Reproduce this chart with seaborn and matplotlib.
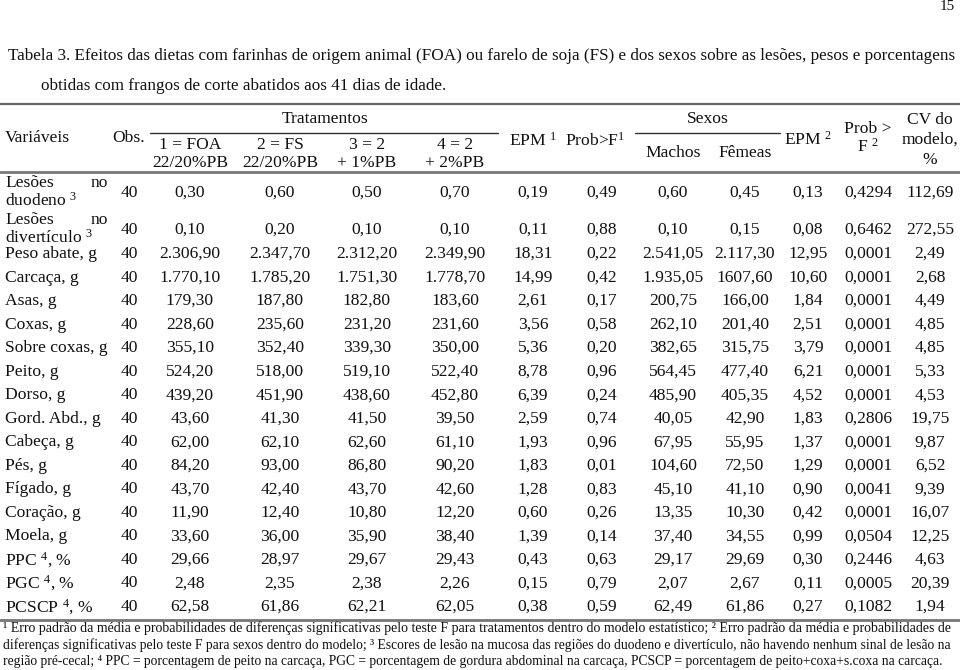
import numpy as np
import pandas as pd
import seaborn as sns
import matplotlib
matplotlib.use("Agg")
import matplotlib.pyplot as plt

# ---- table contents ----
variaveis = ["Lesões no duodeno$^{3}$", "Lesões no divertículo$^{3}$", "Peso abate, g", "Carcaça, g",
             "Asas, g", "Coxas, g", "Sobre coxas, g", "Peito, g", "Dorso, g", "Gord. Abd., g",
             "Cabeça, g", "Pés, g", "Fígado, g", "Coração, g", "Moela, g",
             "PPC $^{4}$, %", "PGC $^{4}$, %", "PCSCP $^{4}$, %"]
obs = ["40", "40", "40", "40", "40", "40", "40", "40", "40", "40", "40", "40", "40", "40", "40", "40", "40", "40"]
foa = ["0,30", "0,10", "2.306,90", "1.770,10", "179,30", "228,60", "355,10", "524,20", "439,20", "43,60",
       "62,00", "84,20", "43,70", "11,90", "33,60", "29,66", "2,48", "62,58"]
fs = ["0,60", "0,20", "2.347,70", "1.785,20", "187,80", "235,60", "352,40", "518,00", "451,90", "41,30",
      "62,10", "93,00", "42,40", "12,40", "36,00", "28,97", "2,35", "61,86"]
fs_1pb = ["0,50", "0,10", "2.312,20", "1.751,30", "182,80", "231,20", "339,30", "519,10", "438,60", "41,50",
          "62,60", "86,80", "43,70", "10,80", "35,90", "29,67", "2,38", "62,21"]
fs_2pb = ["0,70", "0,10", "2.349,90", "1.778,70", "183,60", "231,60", "350,00", "522,40", "452,80", "39,50",
          "61,10", "90,20", "42,60", "12,20", "38,40", "29,43", "2,26", "62,05"]
epm_trat = ["0,19", "0,11", "18,31", "14,99", "2,61", "3,56", "5,36", "8,78", "6,39", "2,59",
            "1,93", "1,83", "1,28", "0,60", "1,39", "0,43", "0,15", "0,38"]
prob_trat = ["0,49", "0,88", "0,22", "0,42", "0,17", "0,58", "0,20", "0,96", "0,24", "0,74",
             "0,96", "0,01", "0,83", "0,26", "0,14", "0,63", "0,79", "0,59"]
machos = ["0,60", "0,10", "2.541,05", "1.935,05", "200,75", "262,10", "382,65", "564,45", "485,90", "40,05",
          "67,95", "104,60", "45,10", "13,35", "37,40", "29,17", "2,07", "62,49"]
femeas = ["0,45", "0,15", "2.117,30", "1607,60", "166,00", "201,40", "315,75", "477,40", "405,35", "42,90",
          "55,95", "72,50", "41,10", "10,30", "34,55", "29,69", "2,67", "61,86"]
epm_sexo = ["0,13", "0,08", "12,95", "10,60", "1,84", "2,51", "3,79", "6,21", "4,52", "1,83",
            "1,37", "1,29", "0,90", "0,42", "0,99", "0,30", "0,11", "0,27"]
prob_sexo = ["0,4294", "0,6462", "0,0001", "0,0001", "0,0001", "0,0001", "0,0001", "0,0001", "0,0001", "0,2806",
             "0,0001", "0,0001", "0,0041", "0,0001", "0,0504", "0,2446", "0,0005", "0,1082"]
cv_modelo = ["112,69", "272,55", "2,49", "2,68", "4,49", "4,85", "4,85", "5,33", "4,53", "19,75",
             "9,87", "6,52", "9,39", "16,07", "12,25", "4,63", "20,39", "1,94"]

tratamentos = ["1 = FOA\n22/20%PB", "2 = FS\n22/20%PB", "3 = 2\n+ 1%PB", "4 = 2\n+ 2%PB"]

caption = ["Tabela 3. Efeitos das dietas com farinhas de origem animal (FOA) ou farelo de soja (FS) e dos sexos sobre as lesões, pesos e porcentagens",
           "obtidas com frangos de corte abatidos aos 41 dias de idade."]
footnotes = ["¹ Erro padrão da média e probabilidades de diferenças significativas pelo teste F para tratamentos dentro do modelo estatístico; ² Erro padrão da média e probabilidades de",
             "diferenças significativas pelo teste F para sexos dentro do modelo; ³ Escores de lesão na mucosa das regiões do duodeno e divertículo, não havendo nenhum sinal de lesão na",
             "região pré-cecal; ⁴ PPC = porcentagem de peito na carcaça, PGC = porcentagem de gordura abdominal na carcaça, PCSCP = porcentagem de peito+coxa+s.coxa na carcaça."]

df = pd.DataFrame({"obs": obs, "foa": foa, "fs": fs, "fs_1pb": fs_1pb, "fs_2pb": fs_2pb,
                   "epm_trat": epm_trat, "prob_trat": prob_trat, "machos": machos, "femeas": femeas,
                   "epm_sexo": epm_sexo, "prob_sexo": prob_sexo, "cv": cv_modelo}, index=variaveis)

sns.set_theme(style="white")
plt.rcParams['font.family'] = ['Liberation Serif', 'DejaVu Serif']
plt.rcParams['mathtext.fontset'] = 'custom'
plt.rcParams['mathtext.rm'] = 'Liberation Serif'
plt.rcParams['mathtext.default'] = 'regular'

fig = plt.figure(figsize=(9.6, 6.7), dpi=100)
ax = fig.add_axes([0, 0, 1, 1])
ax.set_xlim(0, 960)
ax.set_ylim(670, 0)
ax.axis('off')

ink = '#111111'
fs_body = 12.6
r = fig.canvas.get_renderer()


def fit_width(t, target):
    # shrink/grow the font until the text spans the target width
    for _ in range(4):
        w = t.get_window_extent(r).width
        t.set_fontsize(t.get_fontsize() * target / w)


# layout
col_x = [129, 190, 280, 367, 455, 533, 602, 673, 745, 808, 868, 930]
row_y = [193, 230] + list(np.linspace(254, 607, len(variaveis) - 2))

# page number + caption
ax.text(955, 7, "15", ha='right', va='center', fontsize=11, color=ink)
cap1 = ax.text(8, 56, caption[0], ha='left', va='center', fontsize=12, color=ink)
fit_width(cap1, 945)
ax.text(41, 86, caption[1], ha='left', va='center', fontsize=cap1.get_fontsize(), color=ink)

# rules
ax.plot([0, 960], [104, 104], color='#666666', lw=1.6)
ax.plot([150, 498], [133, 133], color='#333333', lw=1.0)
ax.plot([635, 780], [133, 133], color='#333333', lw=1.0)
ax.plot([0, 960], [172, 172], color='#777777', lw=2.0)
ax.plot([0, 960], [620, 620], color='#777777', lw=2.0)

# header
ax.text(5, 138, "Variáveis", ha='left', va='center', fontsize=fs_body, color=ink)
ax.text(col_x[0], 138, "Obs.", ha='center', va='center', fontsize=fs_body, color=ink)
ax.text(325, 119, "Tratamentos", ha='center', va='center', fontsize=fs_body, color=ink)
for x, lab in zip(col_x[1:5], tratamentos):
    top, bot = lab.split("\n")
    ax.text(x, 145, top, ha='center', va='center', fontsize=fs_body, color=ink)
    ax.text(x, 163, bot, ha='center', va='center', fontsize=fs_body, color=ink)
ax.text(col_x[5], 141, "EPM $^{1}$", ha='center', va='center', fontsize=fs_body, color=ink)
ax.text(595, 141, "Prob>F$^{1}$", ha='center', va='center', fontsize=fs_body, color=ink)
ax.text(708, 119, "Sexos", ha='center', va='center', fontsize=fs_body, color=ink)
ax.text(col_x[7], 153, "Machos", ha='center', va='center', fontsize=fs_body, color=ink)
ax.text(col_x[8], 153, "Fêmeas", ha='center', va='center', fontsize=fs_body, color=ink)
ax.text(col_x[9], 140, "EPM $^{2}$", ha='center', va='center', fontsize=fs_body, color=ink)
ax.text(col_x[10], 129, "Prob >", ha='center', va='center', fontsize=fs_body, color=ink)
ax.text(col_x[10], 147, "F $^{2}$", ha='center', va='center', fontsize=fs_body, color=ink)
ax.text(col_x[11], 120, "CV do", ha='center', va='center', fontsize=fs_body, color=ink)
ax.text(col_x[11], 140, "modelo,", ha='center', va='center', fontsize=fs_body, color=ink)
ax.text(col_x[11], 160, "%", ha='center', va='center', fontsize=fs_body, color=ink)

# body
for (name, row), y in zip(df.iterrows(), row_y):
    if name.startswith("Lesões no"):
        rest = name.split(" no ")[1]
        ax.text(5, y - 10, "Lesões", ha='left', va='center', fontsize=fs_body, color=ink)
        ax.text(108, y - 10, "no", ha='right', va='center', fontsize=fs_body, color=ink)
        ax.text(5, y + 8, rest.replace("$^{3}$", " $^{3}$"), ha='left', va='center',
                fontsize=fs_body, color=ink)
    else:
        ax.text(5, y, name, ha='left', va='center', fontsize=fs_body, color=ink)
    for x, val in zip(col_x, row.values):
        ax.text(x, y, val, ha='center', va='center', fontsize=fs_body, color=ink)

# footnotes, each line stretched to the text block width
for y, line, right in zip([628.5, 645, 661.5], footnotes, [952, 952, 945]):
    t = ax.text(3, y, line, ha='left', va='center', fontsize=10, color=ink)
    fit_width(t, right - 3)

fig.savefig("out.png", dpi=100)
